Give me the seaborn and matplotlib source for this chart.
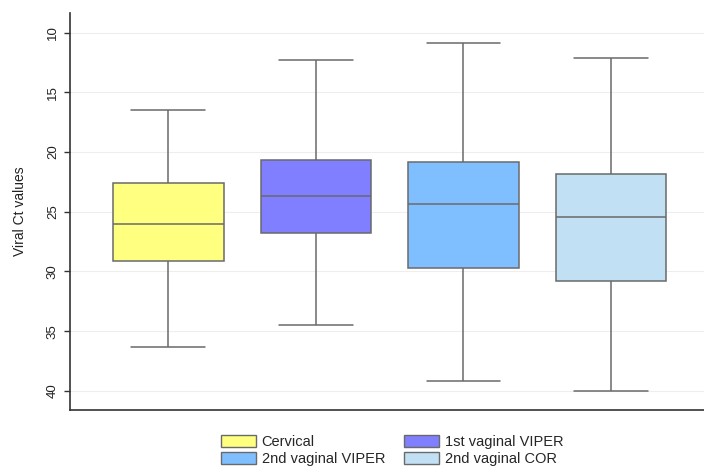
import pandas as pd
import numpy as np
import matplotlib
matplotlib.use("Agg")
import matplotlib.pyplot as plt
import seaborn as sns
from matplotlib.patches import Patch

sns.set_style("white")
plt.rcParams['font.family'] = ['Liberation Sans', 'DejaVu Sans']

# five-number summaries (min, Q1, median, Q3, max)
sites = ["Cervical", "1st vaginal VIPER", "2nd vaginal VIPER", "2nd vaginal COR"]
cervical = [16.5, 22.6, 26.0, 29.1, 36.3]
vaginal_viper_1 = [12.3, 20.7, 23.65, 26.8, 34.5]
vaginal_viper_2 = [10.9, 20.8, 24.35, 29.7, 39.2]
vaginal_cor_2 = [12.15, 21.85, 25.45, 30.8, 40.0]
colors = ["#FFFF80", "#7F7FFF", "#80BFFF", "#C2E0F4"]
yticks = [10, 15, 20, 25, 30, 35, 40]

df = pd.DataFrame({
    "site": np.repeat(sites, 5),
    "ct": cervical + vaginal_viper_1 + vaginal_viper_2 + vaginal_cor_2,
})

fig = plt.figure(figsize=(7.04, 4.73), dpi=100)
ax = fig.add_axes([0.0994, 0.1332, 0.9006, 0.8393])

sns.boxplot(data=df, x="site", y="ct", hue="site", palette=colors, saturation=1,
            order=sites, hue_order=sites, whis=(0, 100), width=0.75,
            linecolor="#6a6a6a", linewidth=1.1, legend=False, ax=ax)

# wider caps like the original
for line in ax.lines:
    xd = line.get_xdata()
    yd = line.get_ydata()
    if len(xd) == 2 and yd[0] == yd[1] and abs(xd[1] - xd[0]) < 0.5:
        c = (xd[0] + xd[1]) / 2
        line.set_xdata([c - 0.25, c + 0.25])

ax.set_ylim(41.6, 8.35)
ax.set_xlim(-0.666, 3.63)
ax.set_yticks(yticks)
ax.set_yticklabels([str(t) for t in yticks], rotation=90, va="center", fontsize=9.5, color="#222222")
ax.tick_params(axis="y", length=4, width=1, color="#333333", pad=4, left=True)
ax.tick_params(axis="x", length=0)
ax.set_xticklabels([])
ax.set_xlabel("")
ax.set_ylabel("Viral Ct values", fontsize=10, color="#222222", labelpad=14)
ax.yaxis.grid(True, color="#eeeeee", linewidth=0.8)
ax.set_axisbelow(True)
for s in ["top", "right"]:
    ax.spines[s].set_visible(False)
for s in ["left", "bottom"]:
    ax.spines[s].set_color("#333333")
    ax.spines[s].set_linewidth(1.2)

# legend filled row by row, as in the original
order = [0, 2, 1, 3]
handles = [Patch(facecolor=colors[i], edgecolor="#6a6a6a", linewidth=1) for i in order]
labels = [sites[i] for i in order]
fig.legend(handles, labels, ncol=2, loc="upper center", bbox_to_anchor=(0.557, 0.108),
           frameon=False, fontsize=10.5, handlelength=2.4, handleheight=0.9,
           handletextpad=0.4, columnspacing=1.3, labelspacing=0.2)

fig.savefig("out.png", dpi=100)
